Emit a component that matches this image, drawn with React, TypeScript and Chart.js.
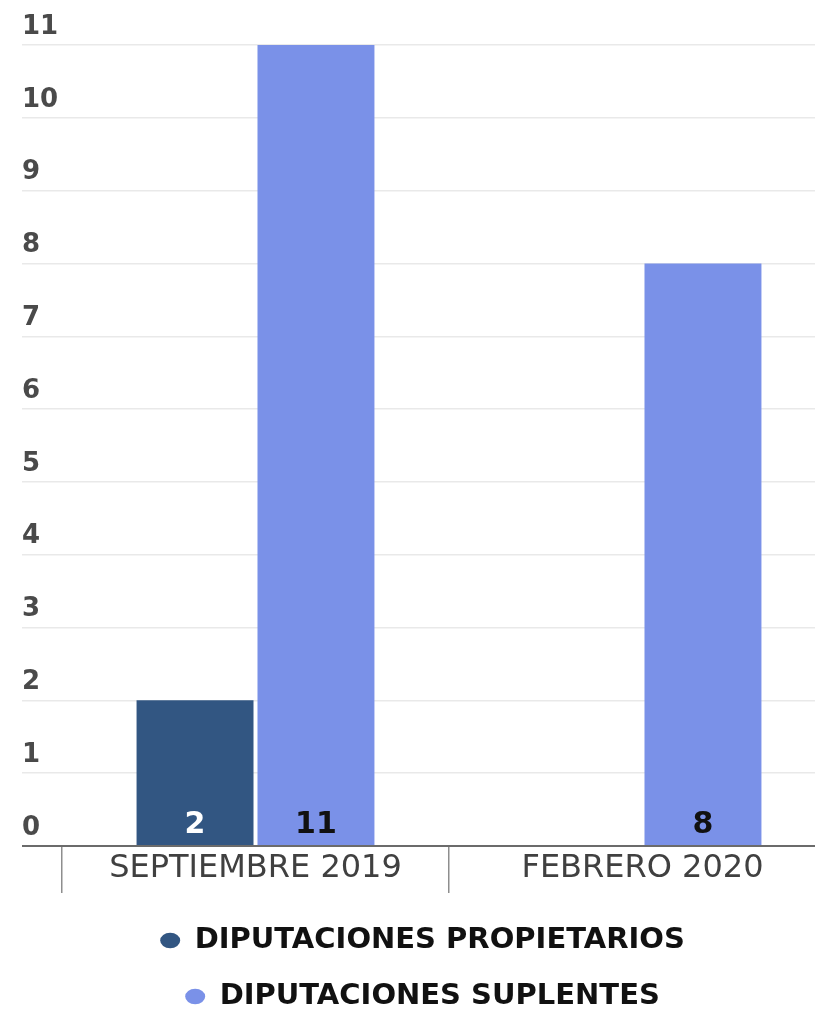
import React, { useEffect, useRef } from 'react';
import { Chart, registerables } from 'chart.js';

Chart.register(...registerables);

const categories = ['SEPTIEMBRE 2019', 'FEBRERO 2020'];
const seriesNames = ['DIPUTACIONES PROPIETARIOS', 'DIPUTACIONES SUPLENTES'];
const propietarios = [2, 0];
const suplentes = [11, 8];
const yMin = 0;
const yMax = 11;
const yStep = 1;

const barColors = ['#325682', '#7a91e8'];
const valueLabelColors = ['#ffffff', '#111111'];

const CANVAS_W = 848;
const CANVAS_H = 1021;

const valueLabels = {
  id: 'valueLabels',
  afterDatasetsDraw(chart: any) {
    const ctx = chart.ctx;
    chart.data.datasets.forEach((ds: any, i: number) => {
      const meta = chart.getDatasetMeta(i);
      meta.data.forEach((bar: any, j: number) => {
        const v = ds.data[j];
        if (!v) return;
        ctx.save();
        ctx.font = 'bold 30px "DejaVu Sans"';
        ctx.fillStyle = valueLabelColors[i];
        ctx.textAlign = 'center';
        ctx.textBaseline = 'alphabetic';
        ctx.fillText(String(v), bar.x, bar.base - 12);
        ctx.restore();
      });
    });
  },
};

const legendShift = {
  id: 'legendShift',
  afterLayout(chart: any) {
    if (chart.legend) {
      chart.legend.left -= 13;
    }
  },
};

export default function App() {
  const ref = useRef<HTMLCanvasElement | null>(null);

  useEffect(() => {
    if (!ref.current) return;
    const chart = new Chart(ref.current, {
      type: 'bar',
      data: {
        labels: categories,
        datasets: [
          {
            label: seriesNames[0],
            data: propietarios,
            backgroundColor: barColors[0],
            borderWidth: 0,
            categoryPercentage: 0.625,
            barPercentage: 0.967,
          },
          {
            label: seriesNames[1],
            data: suplentes,
            backgroundColor: barColors[1],
            borderWidth: 0,
            categoryPercentage: 0.625,
            barPercentage: 0.967,
          },
        ],
      },
      options: {
        responsive: false,
        animation: false,
        devicePixelRatio: 1,
        layout: { padding: { left: 22, right: 12, top: 45, bottom: 0 } },
        plugins: {
          legend: {
            position: 'bottom',
            align: 'center',
            labels: {
              usePointStyle: true,
              pointStyle: 'circle',
              pointStyleWidth: 20,
              boxHeight: 11,
              padding: 27,
              color: '#111111',
              font: { family: '"DejaVu Sans"', size: 29, weight: 'bold' },
            },
          },
          tooltip: { enabled: false },
          title: { display: false },
        },
        scales: {
          x: {
            type: 'category',
            afterFit: (scale: any) => {
              scale.height = 53;
            },
            border: { display: true, color: '#6b6b6b', width: 2 },
            grid: {
              offset: true,
              drawOnChartArea: false,
              drawTicks: true,
              tickLength: 47,
              color: '#8e8e8e',
              lineWidth: 1.5,
            },
            ticks: {
              autoSkip: false,
              maxRotation: 0,
              minRotation: 0,
              padding: -44,
              color: '#404040',
              font: { family: '"DejaVu Sans"', size: 32 },
            },
          },
          y: {
            type: 'linear',
            min: yMin,
            max: yMax,
            afterFit: (scale: any) => {
              scale.width = 40;
            },
            border: { display: false },
            grid: {
              drawTicks: true,
              tickLength: 40,
              color: (c: any) => (c.tick && c.tick.value === 0 ? '#6b6b6b' : '#e9e9e9'),
              lineWidth: (c: any) => (c.tick && c.tick.value === 0 ? 2 : 1.5),
            },
            ticks: {
              stepSize: yStep,
              crossAlign: 'far',
              labelOffset: -18,
              padding: 0,
              color: '#4a4a4a',
              font: { family: '"DejaVu Sans"', size: 26, weight: 'bold' },
            },
          },
        },
      },
      plugins: [valueLabels, legendShift],
    } as any);
    return () => chart.destroy();
  }, []);

  return (
    <div
      style={{
        position: 'absolute',
        left: 0,
        top: 0,
        width: 815,
        height: 1012,
        overflow: 'hidden',
        background: '#ffffff',
      }}
    >
      <canvas ref={ref} width={CANVAS_W} height={CANVAS_H} style={{ display: 'block' }} />
    </div>
  );
}
